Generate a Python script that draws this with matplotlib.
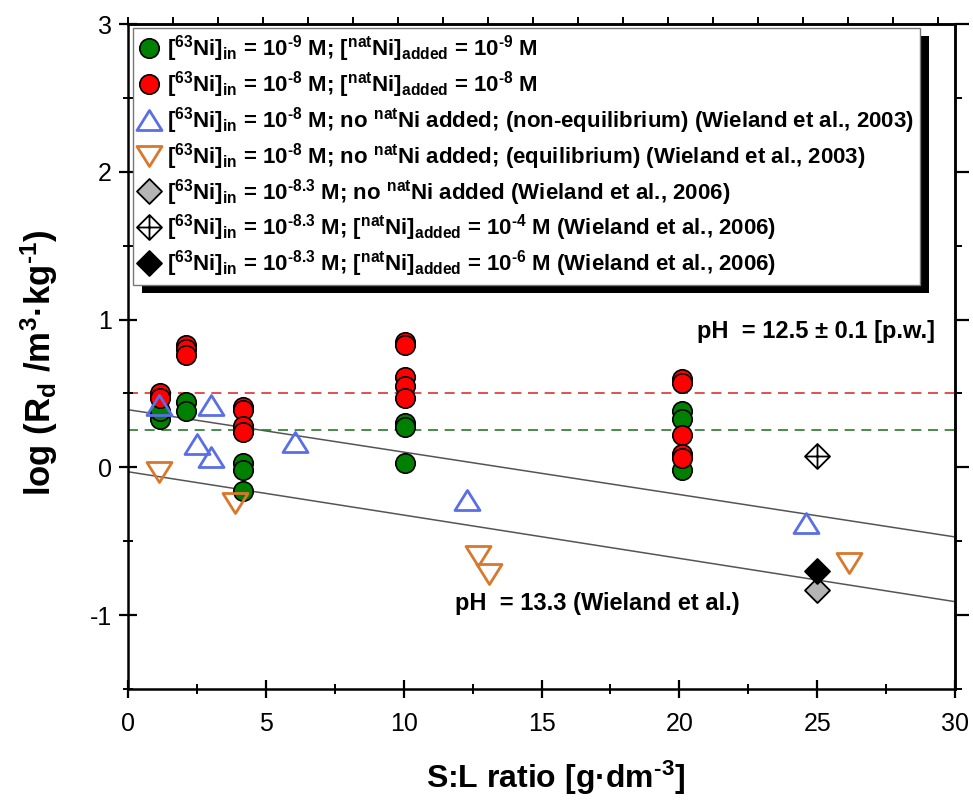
import numpy as np
import matplotlib
matplotlib.use("Agg")
import matplotlib.pyplot as plt
from matplotlib.path import Path
from matplotlib.patches import Rectangle
from matplotlib.ticker import MultipleLocator

plt.rcParams['font.family'] = ['Liberation Sans', 'DejaVu Sans']
plt.rcParams['axes.unicode_minus'] = False
plt.rcParams['mathtext.fontset'] = 'custom'
plt.rcParams['mathtext.rm'] = 'Liberation Sans:bold'
plt.rcParams['mathtext.it'] = 'Liberation Sans:bold'
plt.rcParams['mathtext.bf'] = 'Liberation Sans:bold'
plt.rcParams['mathtext.sf'] = 'Liberation Sans:bold'
plt.rcParams['mathtext.default'] = 'rm'

# ---------------- data ----------------
green_x = [1.16, 1.16, 2.1, 2.1, 4.17, 4.17, 4.17, 10.05, 10.05, 10.05, 20.1, 20.1, 20.1]
green_y = [0.33, 0.38, 0.44, 0.38, 0.03, -0.02, -0.16, 0.30, 0.27, 0.03, 0.38, 0.33, -0.02]

red_x = [1.16, 1.16, 2.1, 2.1, 2.1, 4.17, 4.17, 4.17, 4.17, 10.05, 10.05, 10.05, 10.05, 10.05,
         20.1, 20.1, 20.1, 20.1, 20.1]
red_y = [0.50, 0.47, 0.83, 0.80, 0.76, 0.41, 0.39, 0.28, 0.24, 0.85, 0.83, 0.61, 0.55, 0.47,
         0.60, 0.57, 0.22, 0.09, 0.06]

blue_x = [1.12, 2.5, 3.0, 3.0, 6.06, 12.3, 24.6]
blue_y = [0.42, 0.16, 0.07, 0.42, 0.17, -0.22, -0.38]

orange_x = [1.12, 3.88, 12.7, 13.1, 26.15]
orange_y = [-0.03, -0.24, -0.60, -0.72, -0.65]

gray_x = [25.0]
gray_y = [-0.83]
cross_x = [25.0]
cross_y = [0.075]
black_x = [25.0]
black_y = [-0.70]

# reference lines (intercept, slope)
line_pw = (0.39, -0.0287)
line_wieland = (-0.03, -0.0293)
hline_red = 0.5
hline_green = 0.25

labels = [
    r'$[^{63}$Ni$]_{in}$ = 10$^{\text{-}9}$ M; $[^{nat}$Ni$]_{added}$ = 10$^{\text{-}9}$ M',
    r'$[^{63}$Ni$]_{in}$ = 10$^{\text{-}8}$ M; $[^{nat}$Ni$]_{added}$ = 10$^{\text{-}8}$ M',
    r'$[^{63}$Ni$]_{in}$ = 10$^{\text{-}8}$ M; no $^{nat}$Ni added; (non-equilibrium) (Wieland et al., 2003)',
    r'$[^{63}$Ni$]_{in}$ = 10$^{\text{-}8}$ M; no $^{nat}$Ni added; (equilibrium) (Wieland et al., 2003)',
    r'$[^{63}$Ni$]_{in}$ = 10$^{\text{-}8.3}$ M; no $^{nat}$Ni added (Wieland et al., 2006)',
    r'$[^{63}$Ni$]_{in}$ = 10$^{\text{-}8.3}$ M; $[^{nat}$Ni$]_{added}$ = 10$^{\text{-}4}$ M (Wieland et al., 2006)',
    r'$[^{63}$Ni$]_{in}$ = 10$^{\text{-}8.3}$ M; $[^{nat}$Ni$]_{added}$ = 10$^{\text{-}6}$ M (Wieland et al., 2006)',
]

# ---------------- markers ----------------
def closed(verts):
    v = list(verts) + [verts[0]]
    return Path(v, [Path.MOVETO] + [Path.LINETO] * (len(verts) - 1) + [Path.CLOSEPOLY])

tri_up = closed([(-1, -0.8), (1, -0.8), (0, 0.8)])
tri_down = closed([(-1, 0.8), (1, 0.8), (0, -0.8)])
diamond = closed([(0, 1), (1, 0), (0, -1), (-1, 0)])
cross_diamond = Path(
    [(0, 1), (1, 0), (0, -1), (-1, 0), (0, 1), (0, 1), (0, -1), (-1, 0), (1, 0)],
    [Path.MOVETO, Path.LINETO, Path.LINETO, Path.LINETO, Path.CLOSEPOLY,
     Path.MOVETO, Path.LINETO, Path.MOVETO, Path.LINETO])

W, H = 973, 805
fig = plt.figure(figsize=(W / 100, H / 100), dpi=100)
ax = fig.add_axes([128 / W, 1 - 689 / H, 827 / W, 665 / H])

xs = np.array([0, 30])
ax.plot(xs, line_pw[0] + line_pw[1] * xs, color='#555555', lw=1.1, zorder=1)
ax.plot(xs, line_wieland[0] + line_wieland[1] * xs, color='#555555', lw=1.1, zorder=1)
ax.axhline(hline_red, color='#e03030', lw=1.2, ls=(0, (6, 4)), zorder=1)
ax.axhline(hline_green, color='#2a7a2a', lw=1.2, ls=(0, (6, 4)), zorder=1)

h1, = ax.plot(green_x, green_y, ls='none', marker='o', ms=14, mfc='#008000', mec='black', mew=1.2, zorder=3)
h2, = ax.plot(red_x, red_y, ls='none', marker='o', ms=14, mfc='#ff0000', mec='black', mew=1.2, zorder=3)
h3, = ax.plot(blue_x, blue_y, ls='none', marker=tri_up, ms=18, mfc='none', mec='#5a6ee6', mew=2.0, zorder=4)
h4, = ax.plot(orange_x, orange_y, ls='none', marker=tri_down, ms=18, mfc='none', mec='#d9782d', mew=2.0, zorder=4)
h5, = ax.plot(gray_x, gray_y, ls='none', marker=diamond, ms=18, mfc='#b4b4b4', mec='black', mew=1.3, zorder=4)
h6, = ax.plot(cross_x, cross_y, ls='none', marker=cross_diamond, ms=18, mfc='white', mec='black', mew=1.3, zorder=4)
h7, = ax.plot(black_x, black_y, ls='none', marker=diamond, ms=18, mfc='black', mec='black', mew=1.3, zorder=5)

ax.set_xlim(0, 30)
ax.set_ylim(-1.5, 3)
ax.xaxis.set_major_locator(MultipleLocator(5))
ax.xaxis.set_minor_locator(MultipleLocator(2.5))
ax.yaxis.set_major_locator(MultipleLocator(1))
ax.yaxis.set_minor_locator(MultipleLocator(0.5))
for s in ax.spines.values():
    s.set_linewidth(1.8)
ax.tick_params(axis='both', which='major', direction='inout', length=13, width=1.6,
               labelsize=18, top=False, right=False)
ax.tick_params(axis='both', which='minor', direction='inout', length=7, width=1.4,
               top=False, right=False)
ax.tick_params(axis='x', which='major', pad=10)
ax.tick_params(axis='y', which='major', pad=5)

# right-side outward ticks
sec_r = ax.secondary_yaxis('right')
sec_r.yaxis.set_major_locator(MultipleLocator(1))
sec_r.yaxis.set_minor_locator(MultipleLocator(0.5))
sec_r.tick_params(which='major', direction='out', length=10, width=1.6, labelright=False)
sec_r.tick_params(which='minor', direction='out', length=5, width=1.4)
sec_r.spines['right'].set_linewidth(1.8)
# top outward ticks
sec_t = ax.secondary_xaxis('top')
sec_t.xaxis.set_major_locator(MultipleLocator(1.632))
sec_t.tick_params(which='major', direction='out', length=5, width=1.4, labeltop=False)
sec_t.spines['top'].set_linewidth(1.8)

ax.set_xlabel(r'S:L ratio [g·dm$^{\text{-}3}$]', fontsize=23, fontweight='bold')
ax.xaxis.set_label_coords(0.517, -0.105)
ax.set_ylabel(r'log (R$_{d}$ /m$^{3}$·kg$^{\text{-}1}$)', fontsize=25, fontweight='bold')
ax.yaxis.set_label_coords(-0.082, 0.49)

ax.text(20.64, 0.92, 'pH  = 12.5 ± 0.1 [p.w.]', fontsize=17, fontweight='bold', va='center', ha='left')
ax.text(11.86, -0.92, 'pH  = 13.3 (Wieland et al.)', fontsize=17, fontweight='bold', va='center', ha='left')

leg = ax.legend([h1, h2, h3, h4, h5, h6, h7], labels, loc='upper left',
                bbox_to_anchor=(133 / W, 1 - 28 / H), bbox_transform=fig.transFigure,
                borderaxespad=0, prop={'weight': 'bold', 'size': 16.0}, frameon=True, fancybox=False,
                edgecolor='#777777', framealpha=1, handlelength=0.9, handletextpad=0.4,
                borderpad=0.25, labelspacing=0.22, numpoints=1)
leg.get_frame().set_linewidth(1.0)
leg.set_zorder(10)

fig.canvas.draw()
bb = leg.get_window_extent()
inv = fig.transFigure.inverted()
(x0, y0) = inv.transform((bb.x0 + 9, bb.y0 - 8))
(x1, y1) = inv.transform((bb.x1 + 9, bb.y1 - 8))
shadow = Rectangle((x0, y0), x1 - x0, y1 - y0, transform=fig.transFigure,
                   facecolor='black', edgecolor='none', zorder=9.5, clip_on=False)
ax.add_artist(shadow)

fig.savefig('out.png', dpi=100)
